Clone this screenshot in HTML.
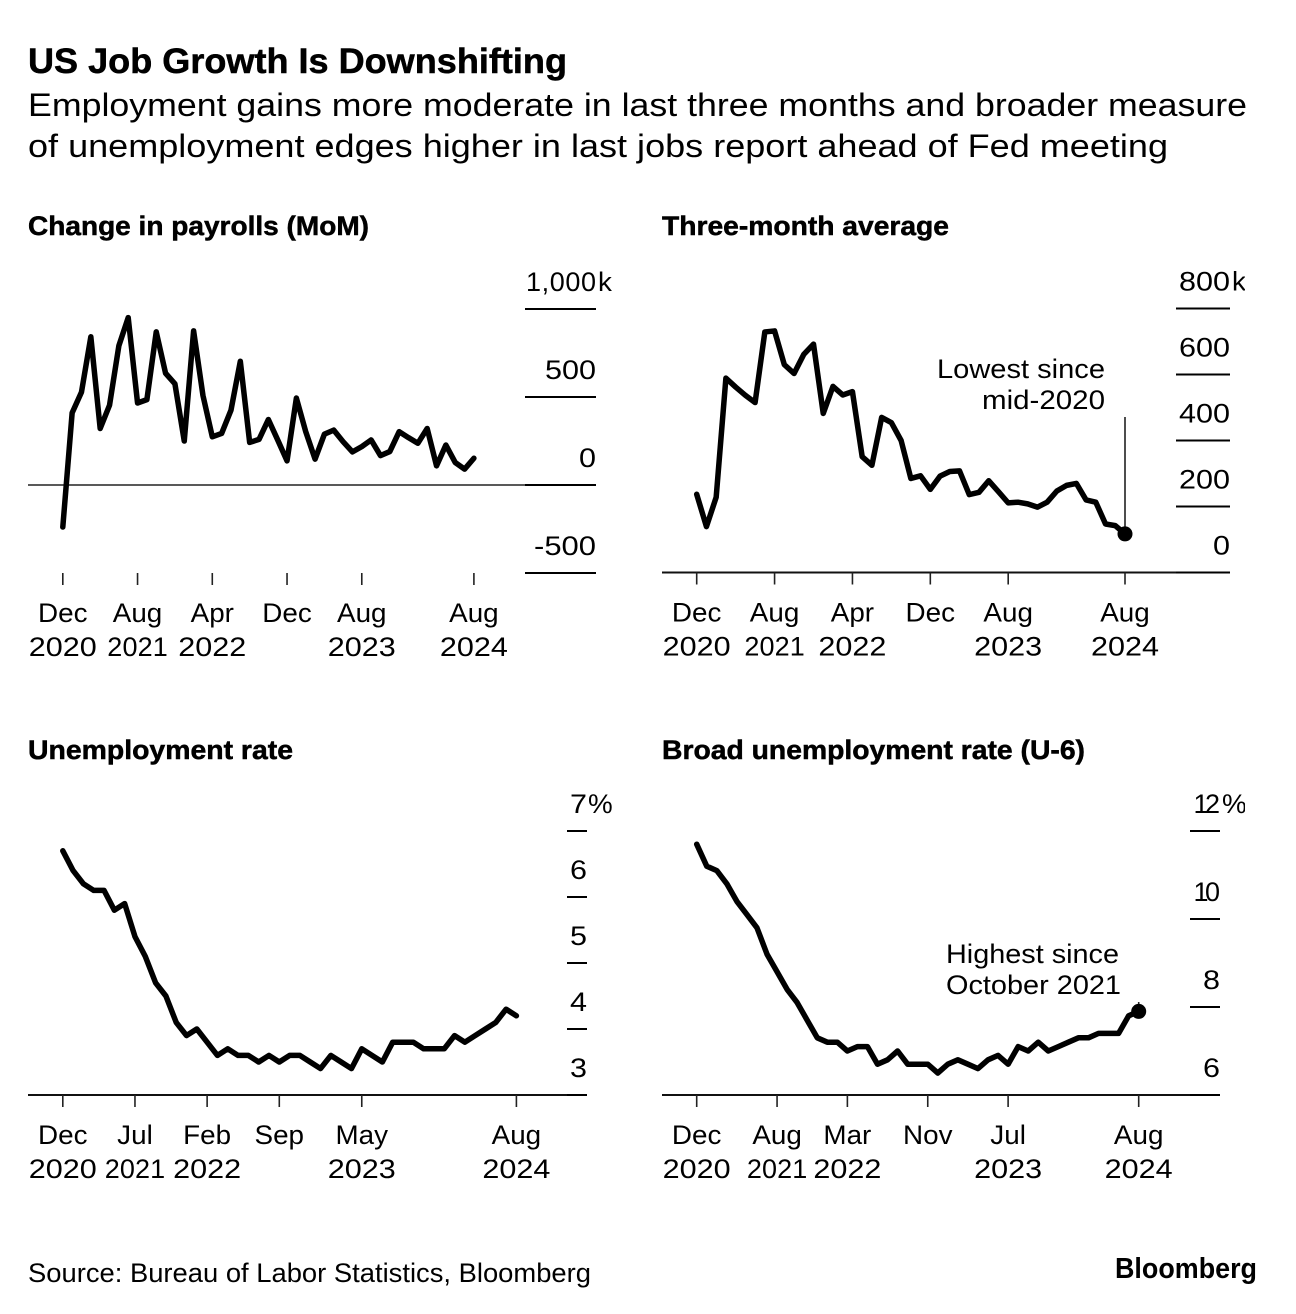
<!DOCTYPE html>
<html lang="en">
<head>
<meta charset="utf-8">
<title>US Job Growth Is Downshifting</title>
<style>
html,body{margin:0;padding:0;background:#fff;}
body{width:1296px;height:1314px;overflow:hidden;}
svg{display:block;}
text{font-family:"Liberation Sans",sans-serif;fill:#000;}
.heavy{stroke:#000;stroke-width:0.5px;}
</style>
</head>
<body>
<svg id="chart" xmlns="http://www.w3.org/2000/svg" width="1296" height="1314" viewBox="0 0 1296 1314">
  <defs><clipPath id="page-clip"><rect x="0" y="0" width="1245" height="1314"></rect></clipPath></defs>
  <rect x="0" y="0" width="1296" height="1314" fill="#fff"></rect>
  <text class="heavy" x="28" y="73" font-size="35" font-weight="700" textLength="539" lengthAdjust="spacingAndGlyphs">US Job Growth Is Downshifting</text>
  <text x="28" y="116" font-size="32" textLength="1219" lengthAdjust="spacingAndGlyphs">Employment gains more moderate in last three months and broader measure</text>
  <text x="28" y="157" font-size="32" textLength="1140" lengthAdjust="spacingAndGlyphs">of unemployment edges higher in last jobs report ahead of Fed meeting</text>
  <text class="heavy" x="28" y="235" font-size="27" font-weight="700" textLength="341" lengthAdjust="spacingAndGlyphs">Change in payrolls (MoM)</text>
  <text class="heavy" x="662" y="235" font-size="27" font-weight="700" textLength="287" lengthAdjust="spacingAndGlyphs">Three-month average</text>
  <text class="heavy" x="28" y="759" font-size="27" font-weight="700" textLength="265" lengthAdjust="spacingAndGlyphs">Unemployment rate</text>
  <text class="heavy" x="662" y="759" font-size="27" font-weight="700" textLength="423" lengthAdjust="spacingAndGlyphs">Broad unemployment rate (U-6)</text>
  <text x="1105" y="378" font-size="27" text-anchor="end" textLength="168" lengthAdjust="spacingAndGlyphs">Lowest since</text>
  <text x="1105" y="409" font-size="27" text-anchor="end" textLength="123" lengthAdjust="spacingAndGlyphs">mid-2020</text>
  <text x="946" y="963" font-size="27" textLength="173" lengthAdjust="spacingAndGlyphs">Highest since</text>
  <text x="946" y="994" font-size="27" textLength="175" lengthAdjust="spacingAndGlyphs">October 2021</text>
  <text x="28" y="1282" font-size="27" textLength="563" lengthAdjust="spacingAndGlyphs">Source: Bureau of Labor Statistics, Bloomberg</text>
  <text x="1115" y="1278" font-size="28.5" font-weight="700" textLength="142" lengthAdjust="spacingAndGlyphs">Bloomberg</text>
  <g id="plots"></g>
</svg>
<script>
// Series values, Dec 2020 through Aug 2024 (45 months)
const payrollValues = [-239,410,528,842,321,453,791,951,466,485,870,635,575,250,876,509,274,293,425,703,242,259,372,256,137,494,303,147,289,312,246,188,218,256,167,190,303,269,237,321,109,227,128,90,152];
const averageValues = [237,139,228,589,562,537,515,729,732,630,603,661,692,482,564,538,548,351,325,470,454,400,285,293,252,292,306,308,236,243,278,245,211,213,208,198,213,247,264,270,220,213,147,142,117];
const unemploymentValues = [6.7,6.4,6.2,6.1,6.1,5.8,5.9,5.4,5.1,4.7,4.5,4.1,3.9,4.0,3.8,3.6,3.7,3.6,3.6,3.5,3.6,3.5,3.6,3.6,3.5,3.4,3.6,3.5,3.4,3.7,3.6,3.5,3.8,3.8,3.8,3.7,3.7,3.7,3.9,3.8,3.9,4.0,4.1,4.3,4.2];
const u6Values = [11.7,11.2,11.1,10.8,10.4,10.1,9.8,9.2,8.8,8.4,8.1,7.7,7.3,7.2,7.2,7.0,7.1,7.1,6.7,6.8,7.0,6.7,6.7,6.7,6.5,6.7,6.8,6.7,6.6,6.8,6.9,6.7,7.1,7.0,7.2,7.0,7.1,7.2,7.3,7.3,7.4,7.4,7.4,7.8,7.9];

// Y-axis tick values and printed labels
const payrollTicks = [1000,500,0,-500];
const payrollTickLabels = ['1,000','500','0','-500'];
const averageTicks = [800,600,400,200,0];
const averageTickLabels = ['800','600','400','200','0'];
const unemploymentTicks = [7,6,5,4,3];
const unemploymentTickLabels = ['7','6','5','4','3'];
const u6Ticks = [12,10,8,6];
const u6TickLabels = ['12','10','8','6'];

// X-axis ticks: month index from Dec 2020, month label, year label
const payrollXIndex = [0,8,16,24,32,44];
const payrollXMonths = ['Dec','Aug','Apr','Dec','Aug','Aug'];
const payrollXYears = ['2020','2021','2022','','2023','2024'];
const averageXIndex = [0,8,16,24,32,44];
const averageXMonths = ['Dec','Aug','Apr','Dec','Aug','Aug'];
const averageXYears = ['2020','2021','2022','','2023','2024'];
const unemploymentXIndex = [0,7,14,21,29,44];
const unemploymentXMonths = ['Dec','Jul','Feb','Sep','May','Aug'];
const unemploymentXYears = ['2020','2021','2022','','2023','2024'];
const u6XIndex = [0,8,15,23,31,44];
const u6XMonths = ['Dec','Aug','Mar','Nov','Jul','Aug'];
const u6XYears = ['2020','2021','2022','','2023','2024'];

const NS = 'http://www.w3.org/2000/svg';
const plots = document.getElementById('plots');

function make(tag, name, parent, attrs) {
  const el = document.createElementNS(NS, tag);
  
  
  for (const k in attrs) el.setAttribute(k, attrs[k]);
  parent.appendChild(el);
  return el;
}

// Reference typeface has wide digits with a narrow "1"; approximate its advance widths.
function numericWidth(str) {
  let w = 0;
  for (const c of str) w += c === '1' ? 9.5 : c === ',' ? 9.5 : c === '-' ? 11 : 17;
  return w;
}

function writeText(name, parent, x, y, str, anchor) {
  const t = make('text', name, parent, {x: x, y: y, 'font-size': 27, 'text-anchor': anchor});
  t.textContent = str;
  const numeric = /^[-,\d]+$/.test(str);
  const target = numeric ? numericWidth(str) : t.getComputedTextLength() * 1.03;
  t.setAttribute('textLength', target.toFixed(1));
  t.setAttribute('lengthAdjust', numeric && str.indexOf('1') >= 0 ? 'spacing' : 'spacingAndGlyphs');
  return t;
}

function drawPanel(p) {
  const g = make('g', p.id + '-panel', plots, {});
  const minV = p.ticks[p.ticks.length - 1], maxV = p.ticks[0];
  const xScale = function (i) { return p.x0 + (p.x1 - p.x0) * i / 44; };
  const yScale = function (v) { return p.yBottom + (p.yTop - p.yBottom) * (v - minV) / (maxV - minV); };

  // Baseline / zero line
  if (p.zeroLine) {
    make('line', p.id + '-zero-line', g, {x1: p.axisFrom, x2: p.axisTo, y1: yScale(0), y2: yScale(0), stroke: '#222', 'stroke-width': 1.5});
  } else {
    make('line', p.id + '-x-axis', g, {x1: p.axisFrom, x2: p.axisTo, y1: p.yBottom, y2: p.yBottom, stroke: '#111', 'stroke-width': 2});
  }

  // Y ticks
  p.ticks.forEach(function (v, i) {
    const y = yScale(v);
    make('line', p.id + '-y-gridline', g, {x1: p.stubFrom, x2: p.stubTo, y1: y, y2: y, stroke: '#000', 'stroke-width': 2});
    writeText(p.id + '-y-tick-label', g, p.stubTo, y - 18, p.tickLabels[i], 'end');
    if (i === 0) {
      const unit = writeText(p.id + '-y-unit', g, p.unitX, y - 18, p.unit, 'start');
      unit.setAttribute('clip-path', 'url(#page-clip)');
    }
  });

  // X ticks
  p.xIndex.forEach(function (idx, i) {
    const x = xScale(idx);
    make('line', p.id + '-x-tick', g, {x1: x, x2: x, y1: p.yBottom, y2: p.yBottom + 12, stroke: '#222', 'stroke-width': 1.6});
    writeText(p.id + '-x-month-label', g, x, p.yBottom + 49, p.xMonths[i], 'middle');
    if (p.xYears[i]) writeText(p.id + '-x-year-label', g, x, p.yBottom + 83, p.xYears[i], 'middle');
  });

  // Annotation connector (behind series)
  if (p.connectorTop) {
    const last = p.values.length - 1;
    make('line', p.id + '-annotation-connector', g, {x1: xScale(last), x2: xScale(last), y1: p.connectorTop, y2: yScale(p.values[last]), stroke: '#222', 'stroke-width': 1.6});
  }

  // Series line
  const d = p.values.map(function (v, i) {
    return (i ? 'L' : 'M') + xScale(i).toFixed(2) + ' ' + yScale(v).toFixed(2);
  }).join('');
  make('path', p.id + '-series-line', g, {d: d, fill: 'none', stroke: '#000', 'stroke-width': 5.5, 'stroke-linejoin': 'round', 'stroke-linecap': 'round'});

  // End marker
  if (p.marker) {
    const last = p.values.length - 1;
    make('circle', p.id + '-end-marker', g, {cx: xScale(last), cy: yScale(p.values[last]), r: 7.5, fill: '#000'});
  }
}

drawPanel({id: 'payrolls', values: payrollValues, ticks: payrollTicks, tickLabels: payrollTickLabels, unit: 'k', unitX: 598,
  x0: 62.8, x1: 473.9, yTop: 309, yBottom: 573, zeroLine: true, axisFrom: 28, axisTo: 596, stubFrom: 525, stubTo: 596,
  xIndex: payrollXIndex, xMonths: payrollXMonths, xYears: payrollXYears});
drawPanel({id: 'average', values: averageValues, ticks: averageTicks, tickLabels: averageTickLabels, unit: 'k', unitX: 1232,
  x0: 696.7, x1: 1125, yTop: 308.5, yBottom: 572.5, axisFrom: 662, axisTo: 1228, stubFrom: 1176, stubTo: 1230,
  xIndex: averageXIndex, xMonths: averageXMonths, xYears: averageXYears, connectorTop: 417, marker: true});
drawPanel({id: 'unemployment', values: unemploymentValues, ticks: unemploymentTicks, tickLabels: unemploymentTickLabels, unit: '%', unitX: 588,
  x0: 62.8, x1: 516.4, yTop: 831, yBottom: 1095, axisFrom: 28, axisTo: 585, stubFrom: 567, stubTo: 587,
  xIndex: unemploymentXIndex, xMonths: unemploymentXMonths, xYears: unemploymentXYears});
drawPanel({id: 'u6', values: u6Values, ticks: u6Ticks, tickLabels: u6TickLabels, unit: '%', unitX: 1222,
  x0: 696.7, x1: 1138.7, yTop: 831, yBottom: 1095, axisFrom: 662, axisTo: 1218, stubFrom: 1190, stubTo: 1220,
  xIndex: u6XIndex, xMonths: u6XMonths, xYears: u6XYears, connectorTop: 1002, marker: true});
</script>
</body>
</html>
